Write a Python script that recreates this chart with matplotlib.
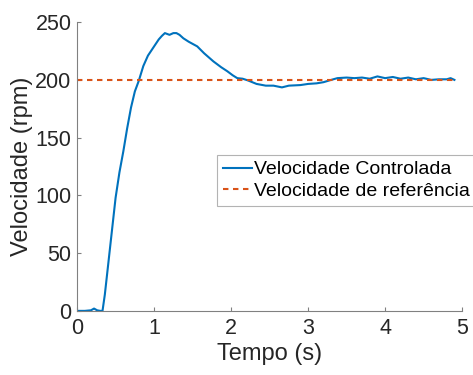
import matplotlib.pyplot as plt
import numpy as np

plt.rcParams['font.family'] = ['Liberation Sans', 'DejaVu Sans']

# Data
tempo = [0.0, 0.1, 0.18, 0.22, 0.26, 0.3, 0.33, 0.36, 0.4, 0.45, 0.5, 0.55,
         0.6, 0.65, 0.7, 0.75, 0.8, 0.86, 0.92, 1.0, 1.06, 1.1, 1.14, 1.2,
         1.25, 1.29, 1.33, 1.38, 1.45, 1.56, 1.65, 1.77, 1.87, 1.95, 2.02,
         2.08, 2.15, 2.22, 2.33, 2.45, 2.55, 2.66, 2.75, 2.9, 3.0, 3.11,
         3.2, 3.3, 3.38, 3.5, 3.6, 3.7, 3.8, 3.9, 4.0, 4.1, 4.2, 4.3, 4.4,
         4.5, 4.6, 4.7, 4.8, 4.85, 4.9]
velocidade = [0, 0, 0.5, 2, 0.5, 0, 0, 14, 38, 68, 98, 120,
              138, 158, 176, 190, 199, 212, 221, 229, 235, 238, 240.5, 239,
              240.5, 240.5, 239, 236, 233, 229, 223, 216, 211, 207.5, 204,
              201.5, 201, 199.5, 196.5, 195, 195, 193.5, 195, 195.5, 196.5, 197,
              198, 200, 201.5, 202, 201.5, 202, 201, 203, 201.5, 202.5, 201,
              202, 200.5, 201.5, 200, 200.5, 200.5, 201.5, 200]
ref_tempo = [0.0, 4.9]
ref_velocidade = [200, 200]

fig = plt.figure(figsize=(4.73, 3.75), dpi=100)
ax = fig.add_axes([0.163, 0.171, 0.814, 0.770])

ax.plot(tempo, velocidade, color='#0072BD', linewidth=1.5,
        label='Velocidade Controlada')
ax.plot(ref_tempo, ref_velocidade, color='#D95319', linewidth=1.5,
        linestyle=(0, (2.6, 2.2)), label='Velocidade de referência')

ax.set_xlim(0, 5)
ax.set_ylim(0, 250)
ax.set_xticks(np.arange(0, 6, 1))
ax.set_yticks(np.arange(0, 251, 50))
ax.set_xlabel('Tempo (s)', fontsize=17, color='#262626', labelpad=3)
ax.set_ylabel('Velocidade (rpm)', fontsize=17, color='#262626', labelpad=2)
ax.tick_params(direction='in', length=3, width=0.8, colors='#808080',
               labelcolor='#262626', labelsize=15.5)
ax.tick_params(axis='y', pad=4)
ax.tick_params(axis='x', pad=5)

for spine in ['top', 'right']:
    ax.spines[spine].set_visible(False)
for spine in ['left', 'bottom']:
    ax.spines[spine].set_color('#808080')
    ax.spines[spine].set_linewidth(0.8)

leg = ax.legend(loc='upper left', bbox_to_anchor=(0.459, 0.587),
                bbox_transform=fig.transFigure, fontsize=14, frameon=True,
                fancybox=False, handlelength=1.5, handletextpad=0.1,
                borderpad=0.3, labelspacing=0.2, borderaxespad=0)
leg.get_frame().set_edgecolor('#a0a0a0')
leg.get_frame().set_linewidth(0.8)

fig.savefig('out.png', dpi=100)
